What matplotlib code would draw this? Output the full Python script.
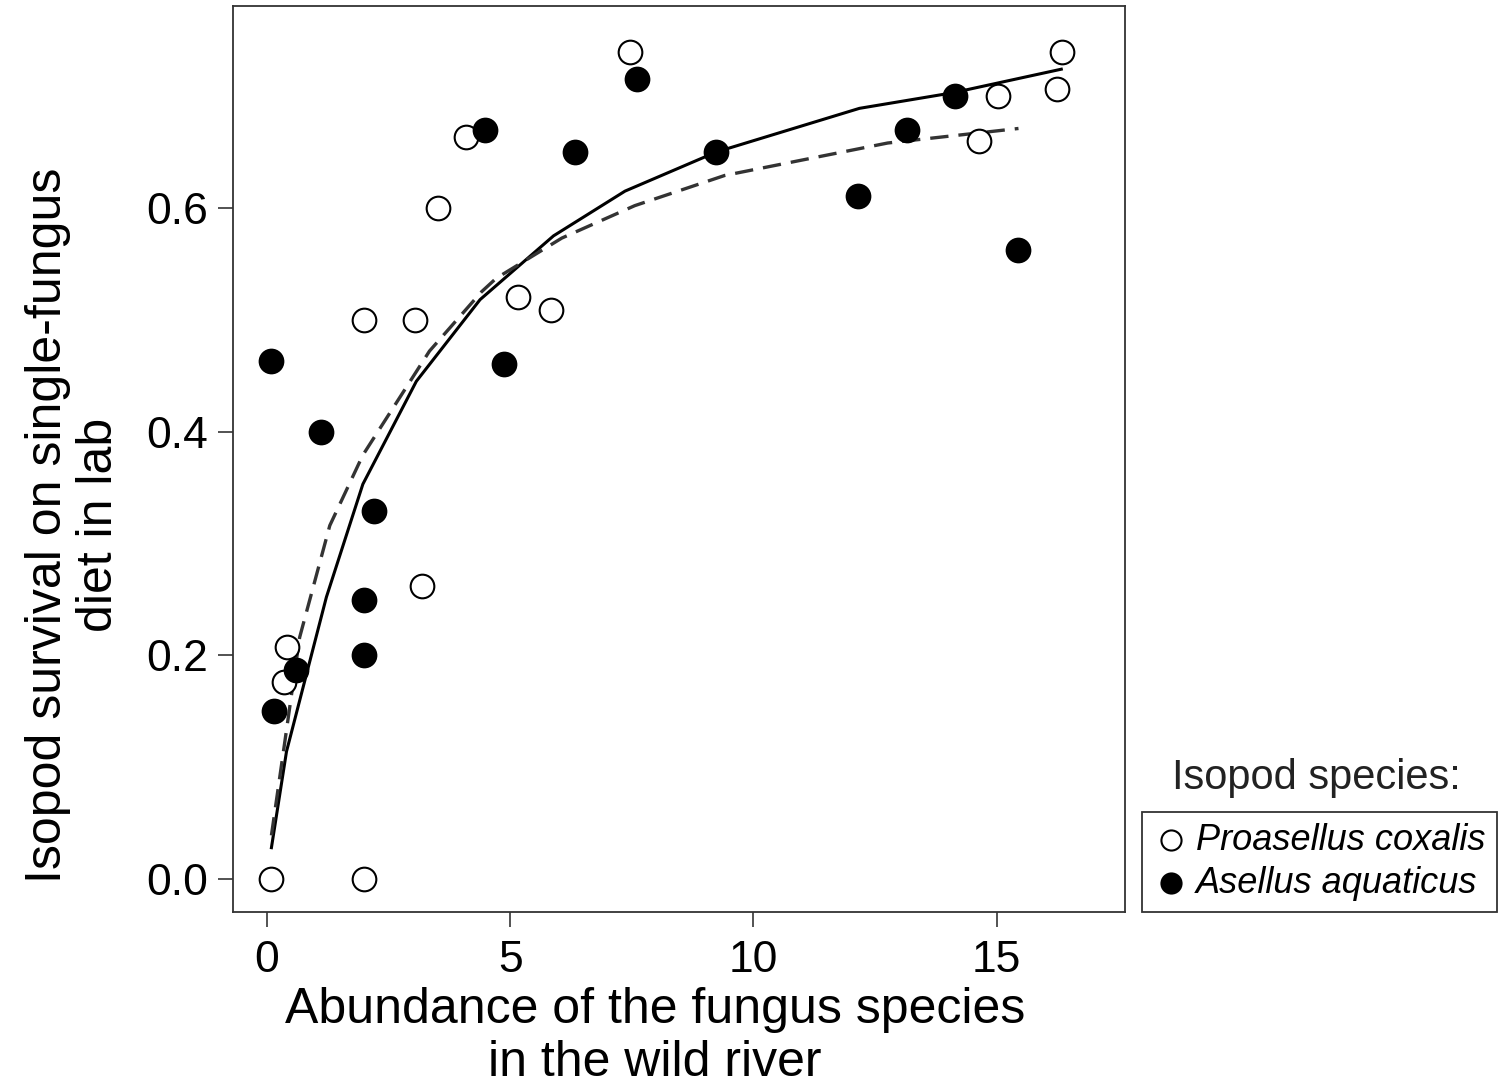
import numpy as np
import matplotlib.pyplot as plt

plt.rcParams['font.family'] = ['Liberation Sans', 'DejaVu Sans']

# Proasellus coxalis (open circles)
pc_x = [0.08, 2.0, 0.41, 0.35, 2.0, 3.04, 3.19, 3.51, 4.09, 5.16, 5.84, 7.46, 14.64, 15.03, 16.24, 16.34]
pc_y = [0.0, 0.0, 0.207, 0.176, 0.5, 0.5, 0.262, 0.6, 0.663, 0.52, 0.509, 0.739, 0.66, 0.70, 0.706, 0.739]

# Asellus aquaticus (filled circles)
aa_x = [0.08, 0.14, 0.60, 1.11, 2.0, 2.0, 2.2, 4.48, 4.87, 6.33, 7.6, 9.23, 12.15, 13.16, 14.14, 15.44]
aa_y = [0.463, 0.150, 0.187, 0.40, 0.249, 0.2, 0.329, 0.670, 0.46, 0.65, 0.715, 0.65, 0.611, 0.67, 0.70, 0.562]

# fitted curves
fit_aa_x = [0.09, 0.40, 1.22, 1.97, 3.07, 4.38, 5.89, 7.36, 9.24, 12.18, 14.11, 16.33]
fit_aa_y = [0.028, 0.114, 0.252, 0.353, 0.445, 0.518, 0.575, 0.615, 0.650, 0.689, 0.703, 0.724]
fit_pc_x = [0.09, 0.36, 0.67, 1.29, 1.97, 3.34, 4.41, 4.71, 6.06, 7.56, 9.41, 12.76, 15.45]
fit_pc_y = [0.039, 0.121, 0.216, 0.316, 0.379, 0.472, 0.525, 0.537, 0.573, 0.602, 0.629, 0.658, 0.671]

fig = plt.figure(figsize=(15.1, 10.88), dpi=100)
ax = fig.add_axes([233 / 1510, 1 - 912 / 1088, 892 / 1510, 906 / 1088])

ax.plot(fit_aa_x, fit_aa_y, color='black', lw=2.2, zorder=2)
ax.plot(fit_pc_x, fit_pc_y, color='#333333', lw=2.4, dashes=(5.5, 3), zorder=2)

ax.scatter(pc_x, pc_y, s=290, facecolor='white', edgecolor='black', linewidth=1.5,
           zorder=3, label='Proasellus coxalis')
ax.scatter(aa_x, aa_y, s=290, facecolor='black', edgecolor='black', linewidth=1.5,
           zorder=3, label='Asellus aquaticus')

ax.set_xlim(-0.70, 17.64)
ax.set_ylim(-0.0295, 0.7805)
ax.set_xticks([0, 5, 10, 15])
ax.set_yticks([0.0, 0.2, 0.4, 0.6])
ax.set_yticklabels(['0.0', '0.2', '0.4', '0.6'])
ax.tick_params(direction='out', length=11, width=1.3, color='#444444',
               labelsize=32, pad=7)
ax.tick_params(axis='x', pad=9)
for sp in ax.spines.values():
    sp.set_linewidth(1.3)
    sp.set_color('#333333')

ax.set_xlabel('Abundance of the fungus species\nin the wild river', fontsize=36,
              linespacing=1.18)
ax.xaxis.set_label_coords(0.473, -0.083)
ax.set_ylabel('Isopod survival on single-fungus\ndiet in lab', fontsize=36,
              linespacing=1.12)
ax.yaxis.set_label_coords(-0.125, 0.427)

fig.text(1316 / 1510, 1 - 778 / 1088, 'Isopod species:', fontsize=30,
         ha='center', va='center', color='#222222')
leg = ax.legend(loc='upper left', bbox_to_anchor=(1142 / 1510, 1 - 812 / 1088),
                bbox_transform=fig.transFigure, frameon=True, fancybox=False,
                edgecolor='black', prop={'style': 'italic', 'size': 26},
                handletextpad=0.2, handlelength=1.0, borderpad=0.3, labelspacing=0.22,
                markerscale=0.85, borderaxespad=0)
leg.get_frame().set_linewidth(1.3)

fig.savefig('out.png', dpi=100)
